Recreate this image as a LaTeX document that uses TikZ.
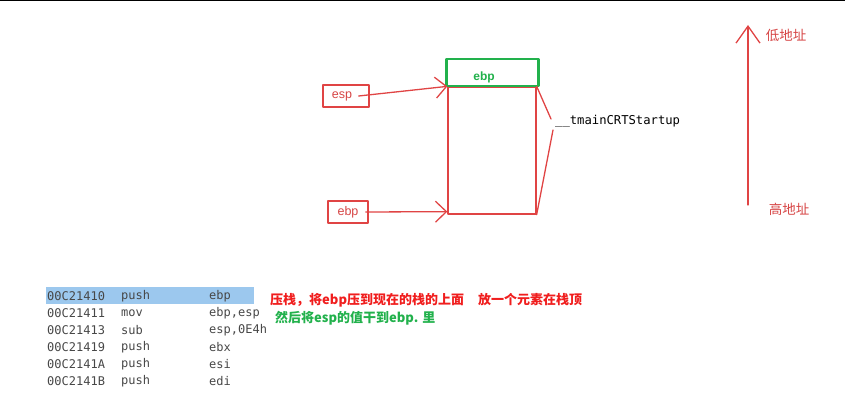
\documentclass[tikz,border=0pt]{standalone}
\usepackage{fontspec}
\newfontfamily\cjk{Noto Sans CJK SC}
\newfontfamily\codefont{DejaVu Sans Mono}
\newfontfamily\regfont{Liberation Sans}
\usetikzlibrary{arrows.meta}

\definecolor{penred}{HTML}{E04444}
\definecolor{redtext}{HTML}{D64545}
\definecolor{hotred}{HTML}{F01E1E}
\definecolor{pengreen}{HTML}{22B14C}
\definecolor{codegray}{HTML}{474747}
\definecolor{selblue}{HTML}{9CC8EE}

\tikzset{
	regbox/.style={draw=penred, line width=1.3pt, inner sep=0pt, text=redtext,
		font=\regfont\fontsize{12.5}{13}\selectfont},
	slotbox/.style={draw=pengreen, line width=2.6pt, inner sep=0pt,
		minimum width=92pt, minimum height=27pt},
	stackbox/.style={draw=penred, line width=1.3pt, inner sep=0pt,
		minimum width=88pt, minimum height=127pt},
	pen/.style={penred, line width=1.3pt},
	barb/.style={pen, -{Straight Barb[length=11pt, width=21pt, line width=1.3pt]}},
	codetext/.style={anchor=west, inner sep=0pt, text=codegray,
		font=\codefont\fontsize{12}{12}\selectfont},
	cjknote/.style={anchor=west, inner sep=0pt, font=\cjk\bfseries\fontsize{13}{13}\selectfont}
}

\begin{document}
\begin{tikzpicture}[x=1pt, y=-1pt, line join=round, line cap=round]
	\useasboundingbox (0,0) rectangle (845,414);
	% 1. 顶部边线
	\draw[black, line width=1.5pt] (0,0.75) -- (845,0.75);
	
	% 2. 栈
	\node[stackbox] (stack) at (492,150.5) {};
	\node[slotbox] (slot) at (492.5,72.5) {};
	\node[inner sep=0pt, text=pengreen, font=\regfont\bfseries\fontsize{12}{12}\selectfont] (slotlabel) at (484,77) {ebp};
	
	% 3. 寄存器
	\node[regbox, minimum width=46pt, minimum height=22pt] (esp) at (346,96) {\hspace*{-8pt}esp};
	\node[regbox, minimum width=40pt, minimum height=22pt] (ebp) at (348,212) {ebp};
	\draw[barb] ([xshift=-11pt]esp.east) -- (stack.north west);
	\draw[barb] ([xshift=-3pt]ebp.east) -- ([yshift=3pt]stack.south west);
	
	% 4. 函数名
	\node[anchor=west, inner sep=0pt, font=\codefont\fontsize{12.2}{12}\selectfont] (func) at (555,121) {\_\_tmainCRTStartup};
	\coordinate (bt) at (551,119);
	\coordinate (bb) at (553,130);
	\draw[pen] (stack.north east) -- (bt);
	\draw[pen] (bb) -- (stack.south east);
	
	% 5. 地址方向
	\coordinate (hi) at (748,205);
	\coordinate (lo) at (748,25);
	\draw[pen, -{Straight Barb[length=17pt, width=24pt, line width=1.3pt]}] (hi) -- (lo);
	\node[inner sep=0pt, text=redtext, font=\cjk\fontsize{13.5}{14}\selectfont] (lowaddr) at (786,35) {低地址};
	\node[inner sep=0pt, text=redtext, font=\cjk\fontsize{13.5}{14}\selectfont] (highaddr) at (789,209) {高地址};
	
	% 6. 汇编代码
	\fill[selblue] (46,287) rectangle (254,304);
	\foreach \a/\m/\r [count=\i] in {00C21410/push/ebp, 00C21411/mov/{ebp,esp},
		00C21413/sub/{esp,0E4h}, 00C21419/push/ebx, 00C2141A/push/esi, 00C2141B/push/edi} {
		\node[codetext] (addr\i) at (47,{279+17*\i}) {\a};
		\node[codetext] (op\i) at (121,{279+17*\i}) {\m};
		\node[codetext] (arg\i) at (209,{279+17*\i}) {\r};
	}
	
	% 7. 说明
	\node[cjknote, text=hotred] (note1) at (270,300) {压栈，将ebp压到现在的栈的上面};
	\node[cjknote, text=hotred] (note2) at (478,300) {放一个元素在栈顶};
	\node[cjknote, text=pengreen] (note3) at (275,318) {然后将esp的值干到ebp. 里};
\end{tikzpicture}
\end{document}
